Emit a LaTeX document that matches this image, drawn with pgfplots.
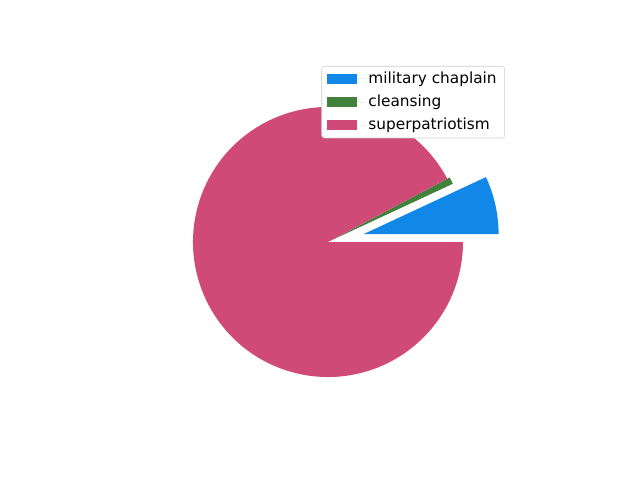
\documentclass[border=0pt]{standalone}
\usepackage{pgfplots}
\pgfplotsset{compat=1.18}
\usepackage{fontspec}
\setmainfont{DejaVu Sans}
\definecolor{cA}{HTML}{1188E8}
\definecolor{cB}{HTML}{42813A}
\definecolor{cC}{HTML}{D04A78}
% data: percentages
\def\vA{6.94}\def\vB{0.83}\def\vC{92.23}
\def\exA{0.27}\def\exB{0.02}\def\exC{0}
\pgfmathsetmacro\sA{0}
\pgfmathsetmacro\eA{\sA+3.6*\vA}
\pgfmathsetmacro\sB{\eA}
\pgfmathsetmacro\eB{\sB+3.6*\vB}
\pgfmathsetmacro\sC{\eB}
\pgfmathsetmacro\eC{\sC+3.6*\vC}
\pgfmathsetmacro\R{135*0.75}
\pgfmathsetmacro\mA{(\sA+\eA)/2}\pgfmathsetmacro\dA{\exA*\R}
\pgfmathsetmacro\mB{(\sB+\eB)/2}\pgfmathsetmacro\dB{\exB*\R}
\pgfmathsetmacro\mC{(\sC+\eC)/2}\pgfmathsetmacro\dC{\exC*\R}
\begin{document}
\begin{tikzpicture}
\begin{axis}[x=0.75pt,y=0.75pt,xmin=0,xmax=640,ymin=0,ymax=480,
  hide axis, scale only axis, clip=false,
  legend style={at={(0.789,0.8625)}, anchor=north east, draw=black!20,
    rounded corners=2pt, font=\fontsize{11.5}{13.8}\selectfont,
    row sep=3.4pt, inner xsep=4pt, inner ysep=2.5pt,
    cells={anchor=west, text height=8.5pt, text depth=2.6pt, inner ysep=3.1pt}},
  legend image code/.code={\fill[#1, sharp corners] (0pt,-3.75pt) rectangle (22.5pt,3.75pt);
    \path (0pt,0pt) -- (29pt,0pt);}]
\path (axis cs:0,0) rectangle (axis cs:640,480);
\fill[cA] ([shift={(\mA:\dA pt)}]axis cs:328,238) -- ++(\sA:\R pt) arc[start angle=\sA, end angle=\eA, radius=\R pt] -- cycle;
\fill[cB] ([shift={(\mB:\dB pt)}]axis cs:328,238) -- ++(\sB:\R pt) arc[start angle=\sB, end angle=\eB, radius=\R pt] -- cycle;
\fill[cC] ([shift={(\mC:\dC pt)}]axis cs:328,238) -- ++(\sC:\R pt) arc[start angle=\sC, end angle=\eC, radius=\R pt] -- cycle;
\addlegendimage{fill=cA, draw=none}
\addlegendentry{military chaplain}
\addlegendimage{fill=cB, draw=none}
\addlegendentry{cleansing}
\addlegendimage{fill=cC, draw=none}
\addlegendentry{superpatriotism}
\end{axis}
\end{tikzpicture}
\end{document}
